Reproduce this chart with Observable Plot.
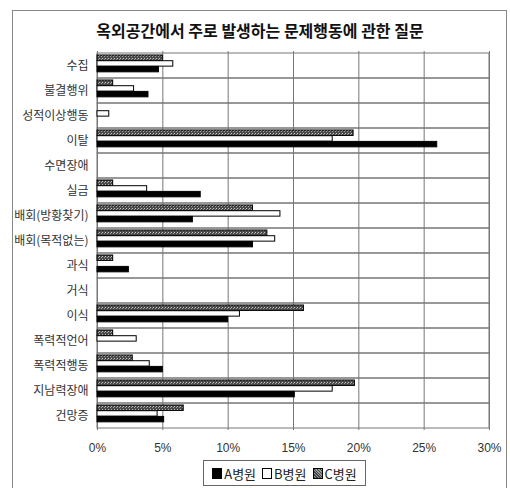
<!DOCTYPE html>
<html><head><meta charset="utf-8">
<script src="https://cdn.jsdelivr.net/npm/d3@7"></script>
<script src="https://cdn.jsdelivr.net/npm/@observablehq/plot@0.6"></script>
<style>
body{margin:0;background:#fff;}
#wrap{position:relative;width:510px;height:488px;overflow:hidden;font-family:"Noto Sans CJK KR",sans-serif;background:#fff;}
#border{position:absolute;left:12px;top:10px;width:493px;height:490px;border:1px solid #888;}
#title{position:absolute;top:20px;left:0;width:520px;text-align:center;font-weight:bold;font-size:16px;line-height:20px;color:#111;}
#chart{position:absolute;top:40px;left:0;}
#legend{position:absolute;left:203px;top:460px;width:163px;height:26px;border:1px solid #666;box-sizing:border-box;display:flex;align-items:center;justify-content:center;font-size:13px;color:#222;gap:6px;}
#legend .sw{display:inline-block;width:10px;height:11px;margin-right:2px;border:1px solid #000;box-sizing:border-box;vertical-align:middle;}
#legend span.item{display:inline-flex;align-items:center;}
</style>
</head><body>
<div id="wrap">
  <div id="border"></div>
  <div id="title"></div>
  <div id="chart"></div>
  <div id="legend"></div>
</div>
<script>
const titleText = "옥외공간에서 주로 발생하는 문제행동에 관한 질문";
const categories = ["수집","불결행위","성적이상행동","이탈","수면장애","실금","배회(방황찾기)","배회(목적없는)","과식","거식","이식","폭력적언어","폭력적행동","지남력장애","건망증"];
const seriesNames = ["A병원","B병원","C병원"];
const hospitalA = [4.7,3.9,0,26.0,0,7.9,7.3,11.9,2.4,0,10.0,0,5.0,15.1,5.1];
const hospitalB = [5.8,2.8,0.9,18.0,0,3.8,14.0,13.6,0,0,10.9,3.0,4.0,18.0,4.6];
const hospitalC = [5.0,1.2,0,19.6,0,1.2,11.9,13.0,1.2,0,15.8,1.2,2.7,19.7,6.6];
const xTicks = [0,5,10,15,20,25,30];

document.getElementById("title").textContent = titleText;

const rows = (vals) => categories.map((c,i)=>({cat:c, v:vals[i]})).filter(d=>d.v>0);

const marginTop = 11, plotH = 379, marginBottom = 30;
const band = plotH / categories.length;
const barH = 5.7, off = 2;

const svg = Plot.plot({
  width: 510,
  height: marginTop + plotH + marginBottom,
  marginTop, marginBottom,
  marginLeft: 97, marginRight: 21,
  style: {fontFamily: '"Noto Sans CJK KR", sans-serif', fontSize: "12px", color: "#333", background: "transparent"},
  x: {domain: [0,30], ticks: xTicks, tickFormat: d => d + "%", tickSize: 0, tickPadding: 13, label: null},
  y: {domain: categories, padding: 0, tickSize: 0, tickPadding: 9, label: null},
  marks: [
    Plot.barX(categories, {y: d=>d, x1: 0, x2: 30, fill: "none", stroke: "#777", strokeWidth: 1}),
    Plot.ruleX(xTicks, {stroke: "#777", strokeWidth: 1}),
    Plot.barX(rows(hospitalC), {y: "cat", x: "v", fill: "url(#hatchC)", stroke: "#000", strokeWidth: 1,
      insetTop: off, insetBottom: band - off - barH}),
    Plot.barX(rows(hospitalB), {y: "cat", x: "v", fill: "#fff", stroke: "#000", strokeWidth: 1,
      insetTop: off + barH, insetBottom: band - off - 2*barH}),
    Plot.barX(rows(hospitalA), {y: "cat", x: "v", fill: "#000", stroke: "#000", strokeWidth: 1,
      insetTop: off + 2*barH, insetBottom: band - off - 3*barH})
  ]
});

// hatch pattern definition for series C
const ns = "http://www.w3.org/2000/svg";
const defs = document.createElementNS(ns, "defs");
defs.innerHTML = '<pattern id="hatchC" width="3" height="3" patternUnits="userSpaceOnUse">' +
  '<rect width="3" height="3" fill="#4a4a4a"/><rect x="0" y="0" width="1" height="1" fill="#c8c8c8"/>' +
  '<rect x="2" y="1" width="1" height="1" fill="#a0a0a0"/></pattern>';
svg.insertBefore(defs, svg.firstChild);

d3.select(svg).selectAll('g[aria-label^="x-axis"] text')
  .style("font-family", '"Liberation Sans Narrow","Liberation Sans",sans-serif')
  .style("font-size", "12px");

document.getElementById("chart").appendChild(svg);

// legend
const swatchStyles = [
  "background:#000;",
  "background:#fff;",
  "background:repeating-linear-gradient(45deg,#444 0 1px,#999 1px 2px);"
];
const legend = document.getElementById("legend");
seriesNames.forEach((name,i)=>{
  const item = document.createElement("span");
  item.className = "item";
  const sw = document.createElement("span");
  sw.className = "sw";
  sw.setAttribute("style", swatchStyles[i]);
  item.appendChild(sw);
  item.appendChild(document.createTextNode(name));
  legend.appendChild(item);
});
</script>
</body></html>
